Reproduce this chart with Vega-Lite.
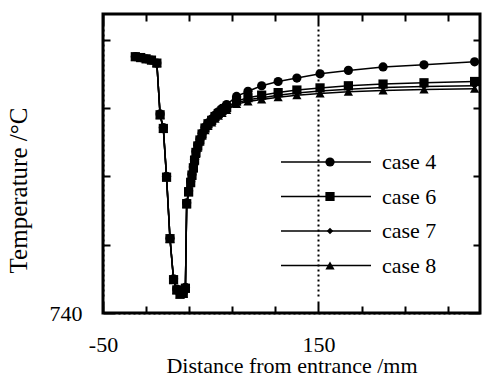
{
  "$schema": "https://vega.github.io/schema/vega-lite/v6.json",
  "width": 377,
  "height": 299,
  "autosize": "none",
  "padding": {"left": 103, "top": 14, "right": 21, "bottom": 64},
  "background": "white",
  "config": {
    "view": {"stroke": "black", "strokeWidth": 3},
    "font": "Liberation Serif",
    "axis": {
      "domain": false,
      "ticks": false,
      "labelOverlap": false,
      "labelBound": false,
      "labelFlush": false,
      "labelFont": "Liberation Serif",
      "labelColor": "black",
      "titleFont": "Liberation Serif",
      "titleFontWeight": "normal",
      "titleColor": "black",
      "gridColor": "black",
      "gridOpacity": 1
    },
    "legend": {"padding": 0}
  },
  "data": {
    "values": [
      {"case": "case 4", "x": -20, "t": 800.0},
      {"case": "case 4", "x": -15, "t": 799.8},
      {"case": "case 4", "x": -10, "t": 799.5},
      {"case": "case 4", "x": -5, "t": 799.2},
      {"case": "case 4", "x": 0, "t": 798.5},
      {"case": "case 4", "x": 3, "t": 786.6},
      {"case": "case 4", "x": 6, "t": 783.4},
      {"case": "case 4", "x": 9, "t": 772.0},
      {"case": "case 4", "x": 12.2, "t": 757.5},
      {"case": "case 4", "x": 15.5, "t": 748.0},
      {"case": "case 4", "x": 18.5, "t": 745.6},
      {"case": "case 4", "x": 21.5, "t": 744.6},
      {"case": "case 4", "x": 24.5, "t": 744.8},
      {"case": "case 4", "x": 26.5, "t": 746.0},
      {"case": "case 4", "x": 27.7, "t": 765.8},
      {"case": "case 4", "x": 29.5, "t": 768.6},
      {"case": "case 4", "x": 31.4, "t": 770.8},
      {"case": "case 4", "x": 32.6, "t": 772.5},
      {"case": "case 4", "x": 33.9, "t": 774.2},
      {"case": "case 4", "x": 35.0, "t": 776.0},
      {"case": "case 4", "x": 36.3, "t": 777.8},
      {"case": "case 4", "x": 38.0, "t": 779.3},
      {"case": "case 4", "x": 40.0, "t": 780.7},
      {"case": "case 4", "x": 42.0, "t": 782.1},
      {"case": "case 4", "x": 44.7, "t": 783.5},
      {"case": "case 4", "x": 47.5, "t": 784.5},
      {"case": "case 4", "x": 50.9, "t": 785.4},
      {"case": "case 4", "x": 54.0, "t": 786.3},
      {"case": "case 4", "x": 57.0, "t": 787.1},
      {"case": "case 4", "x": 60.5, "t": 787.9},
      {"case": "case 4", "x": 64.8, "t": 788.8},
      {"case": "case 4", "x": 74.0, "t": 790.7},
      {"case": "case 4", "x": 84.6, "t": 791.9},
      {"case": "case 4", "x": 97.3, "t": 793.2},
      {"case": "case 4", "x": 112.6, "t": 794.2},
      {"case": "case 4", "x": 130.0, "t": 795.0},
      {"case": "case 4", "x": 151.5, "t": 796.0},
      {"case": "case 4", "x": 177.8, "t": 796.8},
      {"case": "case 4", "x": 210.0, "t": 797.6},
      {"case": "case 4", "x": 248.0, "t": 798.1},
      {"case": "case 4", "x": 295.0, "t": 798.8},

      {"case": "case 6", "x": -20, "t": 800.0},
      {"case": "case 6", "x": -15, "t": 799.8},
      {"case": "case 6", "x": -10, "t": 799.5},
      {"case": "case 6", "x": -5, "t": 799.2},
      {"case": "case 6", "x": 0, "t": 798.5},
      {"case": "case 6", "x": 3, "t": 786.4},
      {"case": "case 6", "x": 6, "t": 783.2},
      {"case": "case 6", "x": 9, "t": 771.8},
      {"case": "case 6", "x": 12.2, "t": 757.4},
      {"case": "case 6", "x": 15.5, "t": 747.8},
      {"case": "case 6", "x": 18.5, "t": 745.4},
      {"case": "case 6", "x": 21.5, "t": 744.4},
      {"case": "case 6", "x": 24.5, "t": 744.6},
      {"case": "case 6", "x": 26.5, "t": 745.8},
      {"case": "case 6", "x": 27.7, "t": 765.6},
      {"case": "case 6", "x": 29.5, "t": 768.4},
      {"case": "case 6", "x": 31.4, "t": 770.6},
      {"case": "case 6", "x": 32.6, "t": 772.3},
      {"case": "case 6", "x": 33.9, "t": 774.0},
      {"case": "case 6", "x": 35.0, "t": 775.8},
      {"case": "case 6", "x": 36.3, "t": 777.6},
      {"case": "case 6", "x": 38.0, "t": 779.1},
      {"case": "case 6", "x": 40.0, "t": 780.5},
      {"case": "case 6", "x": 42.0, "t": 781.9},
      {"case": "case 6", "x": 44.7, "t": 783.3},
      {"case": "case 6", "x": 47.5, "t": 784.3},
      {"case": "case 6", "x": 50.9, "t": 785.1},
      {"case": "case 6", "x": 54.0, "t": 786.0},
      {"case": "case 6", "x": 57.0, "t": 786.7},
      {"case": "case 6", "x": 60.5, "t": 787.4},
      {"case": "case 6", "x": 64.8, "t": 788.1},
      {"case": "case 6", "x": 74.0, "t": 789.6},
      {"case": "case 6", "x": 84.6, "t": 790.4},
      {"case": "case 6", "x": 97.3, "t": 791.0},
      {"case": "case 6", "x": 112.6, "t": 791.6},
      {"case": "case 6", "x": 130.0, "t": 792.2},
      {"case": "case 6", "x": 151.5, "t": 792.7},
      {"case": "case 6", "x": 177.8, "t": 793.2},
      {"case": "case 6", "x": 210.0, "t": 793.6},
      {"case": "case 6", "x": 248.0, "t": 793.9},
      {"case": "case 6", "x": 295.0, "t": 794.2},

      {"case": "case 7", "x": -20, "t": 800.0},
      {"case": "case 7", "x": -15, "t": 799.8},
      {"case": "case 7", "x": -10, "t": 799.5},
      {"case": "case 7", "x": -5, "t": 799.2},
      {"case": "case 7", "x": 0, "t": 798.5},
      {"case": "case 7", "x": 3, "t": 786.4},
      {"case": "case 7", "x": 6, "t": 783.2},
      {"case": "case 7", "x": 9, "t": 771.8},
      {"case": "case 7", "x": 12.2, "t": 757.4},
      {"case": "case 7", "x": 15.5, "t": 747.8},
      {"case": "case 7", "x": 18.5, "t": 745.4},
      {"case": "case 7", "x": 21.5, "t": 744.4},
      {"case": "case 7", "x": 24.5, "t": 744.6},
      {"case": "case 7", "x": 26.5, "t": 745.8},
      {"case": "case 7", "x": 27.7, "t": 765.5},
      {"case": "case 7", "x": 29.5, "t": 768.3},
      {"case": "case 7", "x": 31.4, "t": 770.5},
      {"case": "case 7", "x": 32.6, "t": 772.2},
      {"case": "case 7", "x": 33.9, "t": 773.9},
      {"case": "case 7", "x": 35.0, "t": 775.7},
      {"case": "case 7", "x": 36.3, "t": 777.4},
      {"case": "case 7", "x": 38.0, "t": 778.9},
      {"case": "case 7", "x": 40.0, "t": 780.3},
      {"case": "case 7", "x": 42.0, "t": 781.7},
      {"case": "case 7", "x": 44.7, "t": 783.0},
      {"case": "case 7", "x": 47.5, "t": 784.0},
      {"case": "case 7", "x": 50.9, "t": 784.8},
      {"case": "case 7", "x": 54.0, "t": 785.7},
      {"case": "case 7", "x": 57.0, "t": 786.4},
      {"case": "case 7", "x": 60.5, "t": 787.0},
      {"case": "case 7", "x": 64.8, "t": 787.7},
      {"case": "case 7", "x": 74.0, "t": 789.2},
      {"case": "case 7", "x": 84.6, "t": 789.9},
      {"case": "case 7", "x": 97.3, "t": 790.4},
      {"case": "case 7", "x": 112.6, "t": 791.0},
      {"case": "case 7", "x": 130.0, "t": 791.5},
      {"case": "case 7", "x": 151.5, "t": 792.0},
      {"case": "case 7", "x": 177.8, "t": 792.4},
      {"case": "case 7", "x": 210.0, "t": 792.8},
      {"case": "case 7", "x": 248.0, "t": 793.0},
      {"case": "case 7", "x": 295.0, "t": 793.2},

      {"case": "case 8", "x": -20, "t": 800.0},
      {"case": "case 8", "x": -15, "t": 799.8},
      {"case": "case 8", "x": -10, "t": 799.5},
      {"case": "case 8", "x": -5, "t": 799.2},
      {"case": "case 8", "x": 0, "t": 798.5},
      {"case": "case 8", "x": 3, "t": 786.3},
      {"case": "case 8", "x": 6, "t": 783.1},
      {"case": "case 8", "x": 9, "t": 771.7},
      {"case": "case 8", "x": 12.2, "t": 757.3},
      {"case": "case 8", "x": 15.5, "t": 747.7},
      {"case": "case 8", "x": 18.5, "t": 745.3},
      {"case": "case 8", "x": 21.5, "t": 744.3},
      {"case": "case 8", "x": 24.5, "t": 744.5},
      {"case": "case 8", "x": 26.5, "t": 745.7},
      {"case": "case 8", "x": 27.7, "t": 765.4},
      {"case": "case 8", "x": 29.5, "t": 768.2},
      {"case": "case 8", "x": 31.4, "t": 770.4},
      {"case": "case 8", "x": 32.6, "t": 772.1},
      {"case": "case 8", "x": 33.9, "t": 773.8},
      {"case": "case 8", "x": 35.0, "t": 775.5},
      {"case": "case 8", "x": 36.3, "t": 777.2},
      {"case": "case 8", "x": 38.0, "t": 778.7},
      {"case": "case 8", "x": 40.0, "t": 780.1},
      {"case": "case 8", "x": 42.0, "t": 781.5},
      {"case": "case 8", "x": 44.7, "t": 782.8},
      {"case": "case 8", "x": 47.5, "t": 783.8},
      {"case": "case 8", "x": 50.9, "t": 784.6},
      {"case": "case 8", "x": 54.0, "t": 785.5},
      {"case": "case 8", "x": 57.0, "t": 786.2},
      {"case": "case 8", "x": 60.5, "t": 786.8},
      {"case": "case 8", "x": 64.8, "t": 787.5},
      {"case": "case 8", "x": 74.0, "t": 788.9},
      {"case": "case 8", "x": 84.6, "t": 789.5},
      {"case": "case 8", "x": 97.3, "t": 790.0},
      {"case": "case 8", "x": 112.6, "t": 790.5},
      {"case": "case 8", "x": 130.0, "t": 791.0},
      {"case": "case 8", "x": 151.5, "t": 791.4},
      {"case": "case 8", "x": 177.8, "t": 791.8},
      {"case": "case 8", "x": 210.0, "t": 792.1},
      {"case": "case 8", "x": 248.0, "t": 792.3},
      {"case": "case 8", "x": 295.0, "t": 792.5}
    ]
  },
  "layer": [
    {
      "mark": {"type": "line", "strokeWidth": 1.5},
      "encoding": {
        "x": {
          "field": "x", "type": "quantitative",
          "scale": {"domain": [-50, 300], "nice": false, "zero": false},
          "axis": {
            "orient": "bottom",
            "title": "Distance from entrance /mm",
            "titleFont": "Liberation Serif",
            "titleFontSize": 22,
            "titlePadding": 0,
            "values": [-50,-40,-30,-20,-10,0,10,20,30,40,50,60,70,80,90,100,110,120,130,140,150,160,170,180,190,200,210,220,230,240,250,260,270,280,290,300],
            "labelExpr": "datum.value % 50 === 0 ? '' + datum.value : ''",
            "labelFont": "Liberation Serif",
            "labelFontSize": 22,
            "labelPadding": 21,
            "grid": true,
            "gridWidth": 2,
            "gridDash": {
              "condition": {
                "test": "datum.value % 50 === 0",
                "value": [12,3,2,3,2,3,2,3,2,3,2,3,2,3,2,3,2,3,2,3,2,3,2,3,2,3,2,3,2,3,2,3,2,3,2,3,2,3,2,3,2,3,2,3,2,3,2,3,2,3,2,3,2,3,2,3,2,3,2,3,2,3,2,3,2,3,2,3,2,3,2,3,2,3,2,3,2,3,2,3,2,3,2,3,2,3,2,3,2,3,2,3,2,3,2,3,2,3,2,3,2,3,2,3,2,3,2,3,2,5,12,1000]
              },
              "value": [7, 285, 7, 1000]
            }
          }
        },
        "y": {
          "field": "t", "type": "quantitative",
          "scale": {"domain": [740, 810], "nice": false, "zero": false},
          "axis": {
            "orient": "left",
            "title": "Temperature /°C",
            "titleFont": "Liberation Serif",
            "titleFontSize": 25,
            "titleX": -85,
            "titleY": 176,
            "titleBaseline": "middle",
            "titleAngle": -90,
            "values": [740,742,744,746,748,750,752,754,756,758,760,762,764,766,768,770,772,774,776,778,780,782,784,786,788,790,792,794,796,798,800,802,804,806,808,810],
            "labelExpr": "datum.value % 10 === 0 ? '' + datum.value : ''",
            "labelFont": "Liberation Serif",
            "labelFontSize": 22,
            "labelPadding": 21,
            "grid": true,
            "gridWidth": 2,
            "gridDash": {
              "condition": {
                "test": "datum.value % 10 === 0",
                "value": [12,3,2,3,2,3,2,3,2,3,2,3,2,3,2,3,2,3,2,3,2,3,2,3,2,3,2,3,2,3,2,3,2,3,2,3,2,3,2,3,2,3,2,3,2,3,2,3,2,3,2,3,2,3,2,3,2,3,2,3,2,3,2,3,2,3,2,3,2,3,2,3,2,3,2,3,2,3,2,3,2,3,2,3,2,3,2,3,2,3,2,3,2,3,2,3,2,3,2,3,2,3,2,3,2,3,2,3,2,3,2,3,2,3,2,3,2,3,2,3,2,3,2,3,2,3,2,3,2,3,2,3,2,3,2,3,2,3,2,3,2,3,12,1000]
              },
              "value": [7, 363, 7, 1000]
            }
          }
        },
        "color": {
          "field": "case", "type": "nominal",
          "scale": {"domain": ["case 4", "case 6", "case 7", "case 8"], "range": ["black", "black", "black", "black"]},
          "legend": {
            "title": null,
            "orient": "none",
            "legendX": 177,
            "legendY": 137,
            "symbolType": "stroke",
            "symbolSize": 8100,
            "symbolStrokeWidth": 1.5,
            "clipHeight": 22,
            "labelOffset": 10,
            "labelFont": "Liberation Serif",
            "labelFontSize": 22,
            "labelColor": "black",
            "rowPadding": 12.5
          }
        }
      }
    },
    {
      "mark": {"type": "point", "filled": true, "color": "black", "opacity": 1, "size": 85},
      "encoding": {
        "x": {"field": "x", "type": "quantitative"},
        "y": {"field": "t", "type": "quantitative"},
        "shape": {
          "field": "case", "type": "nominal",
          "scale": {"range": ["circle", "square", "M0,-0.7L0.7,0L0,0.7L-0.7,0Z", "triangle-up"]},
          "legend": {
            "title": null,
            "orient": "none",
            "legendX": 216,
            "legendY": 137,
            "symbolSize": 85,
            "symbolFillColor": "black",
            "symbolStrokeColor": "black",
            "symbolOpacity": 1,
            "clipHeight": 22,
            "labelExpr": "''",
            "labelFontSize": 22,
            "rowPadding": 12.5
          }
        }
      }
    }
  ]
}
